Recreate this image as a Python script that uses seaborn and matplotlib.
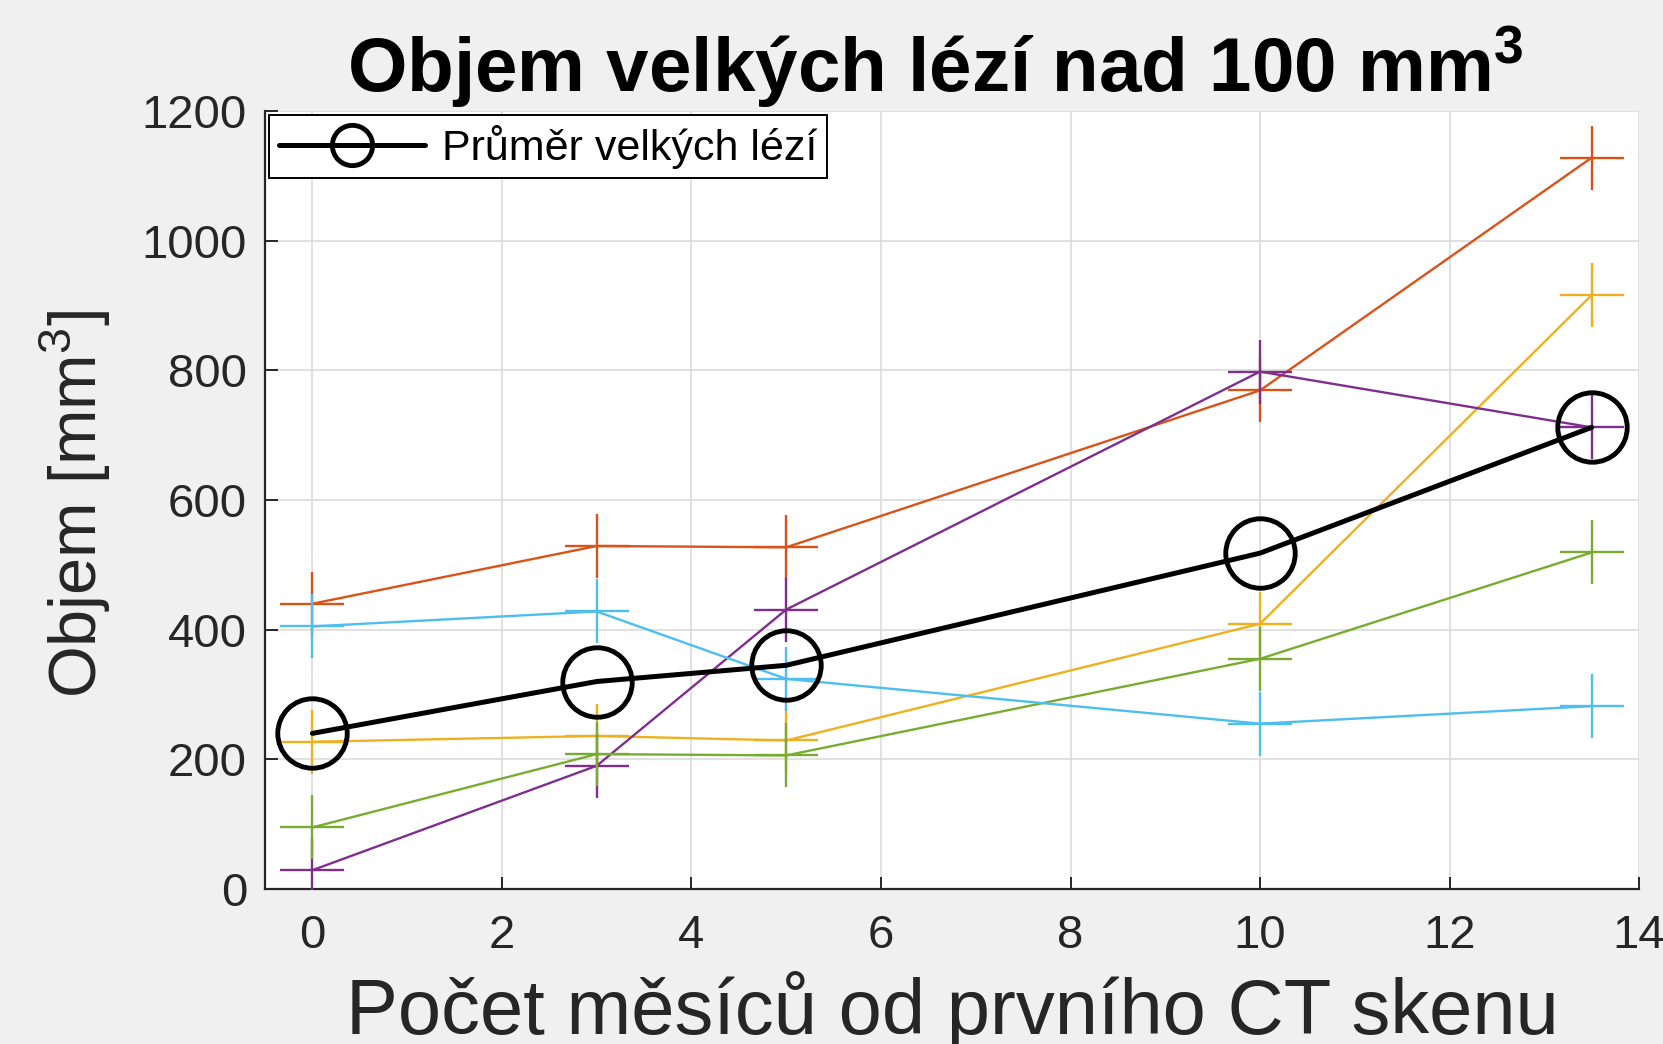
import numpy as np
import pandas as pd
import matplotlib
matplotlib.use('Agg')
import matplotlib.pyplot as plt
import seaborn as sns

# ==============================
# 1. Data
# ==============================
months = [0, 3, 5, 10, 13.5]

lesion_orange = [440, 529, 527, 769, 1128]
lesion_yellow = [227, 236, 229, 409, 916]
lesion_purple = [29, 190, 431, 798, 712]
lesion_green = [95, 208, 206, 355, 519]
lesion_cyan = [405, 428, 324, 255, 282]
mean_lesion = [240, 320, 345, 518, 712]

series_names = ['orange', 'yellow', 'purple', 'green', 'cyan']
series_values = [lesion_orange, lesion_yellow, lesion_purple, lesion_green, lesion_cyan]
series_colors = ['#D95319', '#EDB120', '#7E2F8E', '#77AC30', '#4DBEEE']

x_ticks = [0, 2, 4, 6, 8, 10, 12, 14]
y_ticks = [0, 200, 400, 600, 800, 1000, 1200]

# ==============================
# 2. Style
# ==============================
sns.set_style('whitegrid')
plt.rcParams['font.family'] = ['Liberation Sans', 'DejaVu Sans']
plt.rcParams['mathtext.fontset'] = 'custom'
plt.rcParams['mathtext.rm'] = 'Liberation Sans'
plt.rcParams['mathtext.bf'] = 'Liberation Sans:bold'
plt.rcParams['mathtext.it'] = 'Liberation Sans'

fig = plt.figure(figsize=(16.63, 10.44), dpi=100, facecolor='#f0f0f0')
ax = fig.add_axes([0.1594, 0.1485, 0.8262, 0.7452])
ax.set_facecolor('white')

# ==============================
# 3. Lines
# ==============================
for name, values, color in zip(series_names, series_values, series_colors):
    sns.lineplot(x=months, y=values, color=color, linewidth=1.7,
                 marker='+', markersize=46, markeredgewidth=1.7,
                 markeredgecolor=color, legend=False, ax=ax, zorder=3)

sns.lineplot(x=months, y=mean_lesion, color='black', linewidth=3.6,
             marker='o', markersize=50, markerfacecolor='none',
             markeredgecolor='black', markeredgewidth=3.5,
             label='Průměr velkých lézí', ax=ax, zorder=4)

# ==============================
# 4. Axes, labels
# ==============================
ax.set_xlim(-0.5, 14)
ax.set_ylim(0, 1200)
ax.set_xticks(x_ticks)
ax.set_yticks(y_ticks)
ax.grid(True, color='#dcdcdc', linewidth=1.2)
for side in ['top', 'right']:
    ax.spines[side].set_visible(False)
for side in ['left', 'bottom']:
    ax.spines[side].set_color('#262626')
    ax.spines[side].set_linewidth(1.6)
ax.tick_params(direction='in', length=9, width=1.4, colors='#262626',
               labelsize=34, left=True, bottom=True)
ax.tick_params(axis='x', pad=18)
ax.tick_params(axis='y', pad=13)

ax.set_title(r'Objem velkých lézí nad 100 mm$^{\mathbf{3}}$',
             fontsize=55, fontweight='bold', color='black', pad=14, x=0.488)
ax.set_xlabel('Počet měsíců od prvního CT skenu', fontsize=56,
              color='#262626', va='baseline')
ax.xaxis.set_label_coords(0.5, -0.186)
ax.set_ylabel(r'Objem [mm$^{\mathrm{3}}$]', fontsize=48, color='#262626')
ax.yaxis.set_label_coords(-0.111, 0.495)

leg = ax.legend(loc='upper left', bbox_to_anchor=(0, 1), borderaxespad=0.1,
                fontsize=31, frameon=True, fancybox=False, framealpha=1,
                edgecolor='black', handlelength=3.4, markerscale=0.58,
                handletextpad=0.4, borderpad=0.22)
leg.get_frame().set_linewidth(1.4)
for t in leg.get_texts():
    t.set_color('black')

fig.savefig('out.png', dpi=100, facecolor=fig.get_facecolor())
